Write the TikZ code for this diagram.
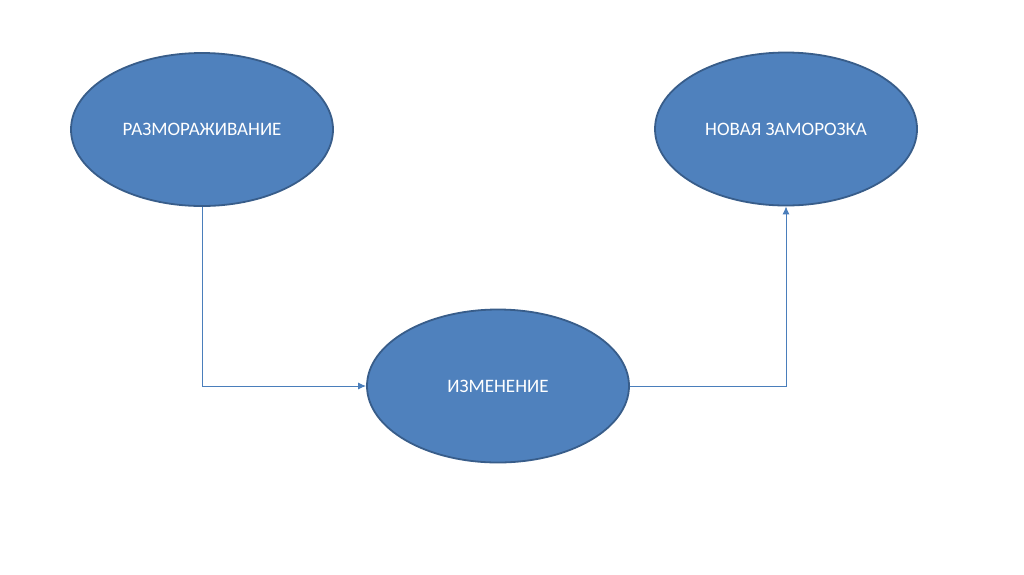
\documentclass[tikz,border=0pt]{standalone}
\usepackage{fontspec}
\setmainfont{Carlito}
\usetikzlibrary{shapes.geometric,arrows.meta}
\definecolor{stagefill}{HTML}{4F81BD}
\definecolor{stageline}{HTML}{385D8A}
\definecolor{linkcol}{HTML}{4A7EBB}

\begin{document}
\begin{tikzpicture}[x=1pt,y=-1pt,
	stage/.style={ellipse,fill=stagefill,draw=stageline,line width=1.8pt,minimum width=262pt,minimum height=153pt,inner sep=0pt,text=white,font=\fontsize{19}{21}\selectfont},
	link/.style={draw=linkcol,line width=1pt,-{Latex[length=8pt,width=7pt]}}]
\useasboundingbox[fill=white] (0,0) rectangle (1024,574);
\foreach \name/\x/\y/\text in {
	thaw/202/129.5/РАЗМОРАЖИВАНИЕ,
	change/498/386/ИЗМЕНЕНИЕ,
	refreeze/786/129/НОВАЯ ЗАМОРОЗКА%
	}{
	\node[stage] (\name) at (\x,\y) {\text};
	}
\draw[link] (thaw.south) |- (change.west);
\draw[link] (change.east) -| (refreeze.south);
\end{tikzpicture}
\end{document}
